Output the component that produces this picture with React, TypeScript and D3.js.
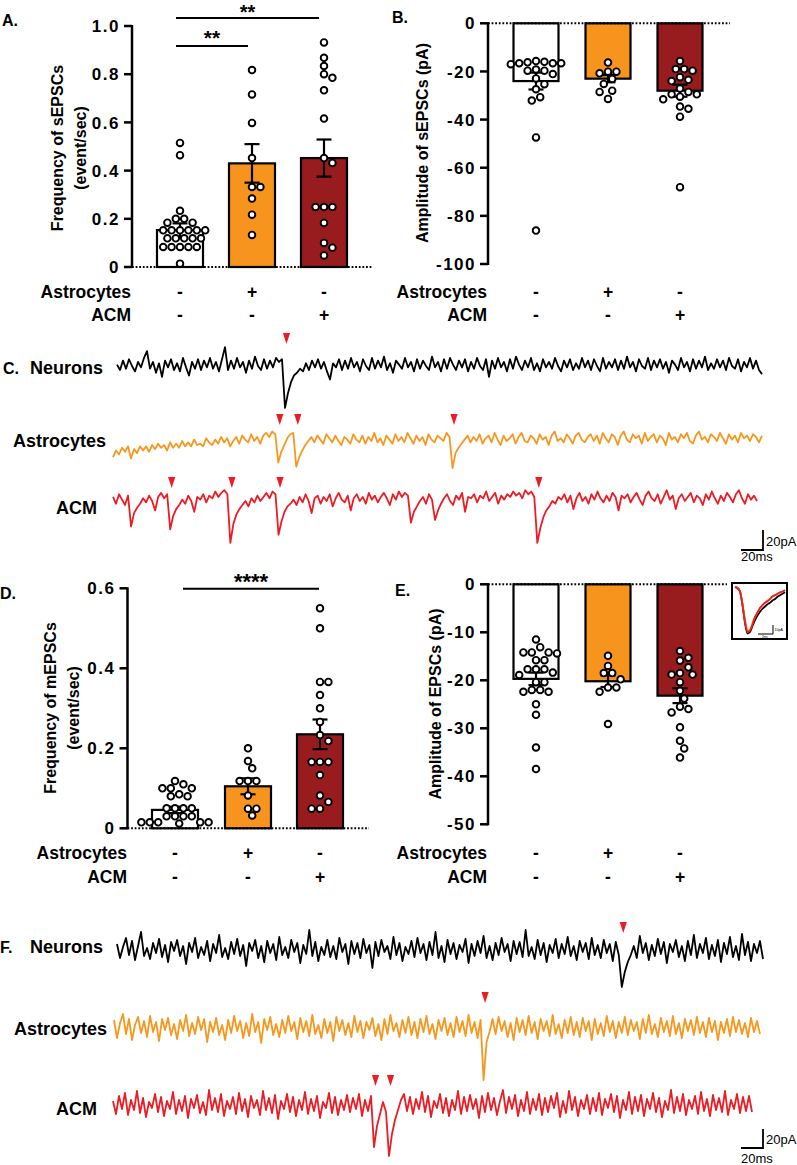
import React from 'react';
import * as d3 from 'd3';

const FONT = "'Liberation Sans', Arial, Helvetica, sans-serif";

// ---------------- DATA ----------------
const astrocytesRow = ['-', '+', '-'];
const acmRow = ['-', '-', '+'];
const barColors = ['#FFFFFF', '#F7941D', '#981B1E'];

// A. Frequency of sEPSCs (event/sec)
const sFreqTicks = [0, 0.2, 0.4, 0.6, 0.8, 1.0];
const sFreqMean = [0.153, 0.43, 0.452];
const sFreqSem = [0.028, 0.08, 0.077];
const sFreqNeurons = [0.515, 0.464, 0.233, 0.2, 0.2, 0.184, 0.184, 0.152, 0.152, 0.152, 0.152, 0.152, 0.152, 0.119, 0.119, 0.119, 0.119, 0.119, 0.083, 0.083, 0.083, 0.083, 0.083, 0.014];
const sFreqAstro = [0.817, 0.716, 0.598, 0.452, 0.332, 0.332, 0.284, 0.217, 0.133];
const sFreqACM = [0.932, 0.868, 0.834, 0.8, 0.785, 0.733, 0.616, 0.452, 0.432, 0.249, 0.249, 0.249, 0.183, 0.1, 0.08, 0.048];

// B. Amplitude of sEPSCs (pA)
const sAmpTicks = [0, -20, -40, -60, -80, -100];
const sAmpMean = [-24.0, -23.0, -28.0];
const sAmpSem = [3.5, 1.5, 2.5];
const sAmpNeurons = [-15.7, -16.0, -16.2, -16.6, -16.6, -16.6, -17.0, -19.2, -19.7, -19.7, -21.1, -22.9, -25.3, -27.4, -30.7, -32.1, -47.4, -86.1];
const sAmpAstro = [-16.3, -20.1, -20.1, -20.8, -23.1, -25.2, -28.0, -28.5, -31.4];
const sAmpACM = [-15.7, -19.0, -19.0, -19.7, -22.4, -23.5, -24.0, -27.1, -28.5, -29.5, -29.5, -30.5, -31.6, -34.6, -35.5, -38.8, -68.1];

// D. Frequency of mEPSCs (event/sec)
const mFreqTicks = [0, 0.2, 0.4, 0.6];
const mFreqMean = [0.046, 0.105, 0.235];
const mFreqSem = [0.008, 0.02, 0.037];
const mFreqNeurons = [0.118, 0.11, 0.1, 0.1, 0.1, 0.085, 0.08, 0.08, 0.05, 0.05, 0.05, 0.05, 0.03, 0.03, 0.03, 0.03, 0.015, 0.015, 0.015, 0.015, 0.015, 0.012];
const mFreqAstro = [0.2, 0.168, 0.15, 0.118, 0.118, 0.118, 0.082, 0.049, 0.049, 0.032];
const mFreqACM = [0.55, 0.5, 0.366, 0.366, 0.333, 0.3, 0.266, 0.233, 0.218, 0.166, 0.166, 0.166, 0.133, 0.082, 0.066, 0.049, 0.049];

// E. Amplitude of EPSCs (pA)
const ampTicks = [0, -10, -20, -30, -40, -50];
const ampMean = [-19.7, -20.2, -23.2];
const ampSem = [1.3, 1.2, 1.55];
const ampNeurons = [-11.5, -13.1, -14.2, -14.2, -14.2, -14.4, -15.8, -15.8, -17.7, -17.7, -17.7, -18.4, -18.9, -20.4, -20.4, -22.0, -22.0, -22.4, -22.4, -25.0, -27.2, -34.0, -38.5];
const ampAstro = [-14.9, -17.0, -18.5, -18.5, -19.8, -21.5, -21.5, -22.4, -29.1];
const ampACM = [-13.9, -15.3, -15.9, -17.3, -18.5, -18.8, -18.8, -20.4, -22.2, -23.8, -25.5, -26.0, -26.7, -29.8, -32.6, -34.2, -36.1];

// Inset: averaged EPSC waveforms (ms, pA)
const insetTime = [0, 1, 2, 3, 4, 5, 6, 7, 8, 9, 10, 11, 12, 13, 14, 15, 16, 17, 18, 19, 20];
const insetNeurons = [0, -0.5, -3, -12, -24, -31, -30, -26, -22, -19, -16.5, -14.5, -13, -11.5, -10.5, -9, -8, -6.5, -5.5, -4.5, -3.5];
const insetAstro = [0, -0.5, -3, -11, -22, -29, -28.5, -24, -20, -17, -14, -12, -10.5, -9, -8, -6.5, -5.5, -4.5, -4, -3, -2.5];
const insetACM = [0, -1, -3, -12, -23, -30, -29, -25, -20, -17, -14, -12, -10.5, -9.5, -8, -6, -5.5, -4.5, -3.5, -3, -2];

// C. sEPSC traces (pA relative to baseline, evenly sampled)
const traceC_Neurons = [
  1, -3, 4, -2, 5, 0, -4, 3, -1, 6,
  11, -2, 3, -5, 2, -8, 4, -1, 5, -3,
  2, -4, 6, -1, -7, 3, -2, 5, -3, 4,
  -1, 6, -2, 3, -4, 5, 14, -3, 4, -2,
  6, -1, 3, -5, 4, -2, 7, 0, -3, 5,
  -2, 4, -1, 6, 3, 5, -31, -20, -12, -7,
  -5, -2, -4, 2, -3, 4, -1, 5, -2, 3,
  -4, -10, 2, -1, 5, -3, 4, -2, 6, -1,
  3, -4, 5, 0, -3, 6, -2, 4, -1, 7,
  -3, 2, -5, 4, 1, -2, 6, -1, 3, -4,
  5, -2, 4, 0, -3, 7, -1, 3, -4, 5,
  -2, 6, 1, -3, 4, -1, 5, -4, 3, -2,
  6, 0, -3, 5, -8, 4, -2, 6, -1, 3,
  -4, 5, -2, 7, 1, -3, 4, -1, 6, -3,
  2, -4, 5, -1, 3, -2, 6, 0, -4, 4,
  -1, 5, -3, 2, -2, 6, -1, 4, -3, 5,
  0, -4, 6, -2, 3, -1, 5, -3, 4, -2,
  7, -1, 3, -4, 5, 0, -2, 6, -3, 4,
  -1, 5, -2, 3, -5, 4, 1, -3, 6, -1,
  3, -4, 5, -2, 4, -1, 7, -3, 2, -2,
  5, -1, 4, -3, 6, 0, -2, 5, -4, 3,
  -1, 6, -2, 4, -3, -6,
];
const traceC_Astro = [
  -12, -7, -10, -5, -8, -4, -13, -6, -9, -4,
  -7, -4, -8, -3, -6, -2, -5, -3, -7, -1,
  -5, -2, -5, 0, -4, -1, -4, 1, -3, -2,
  -4, 2, -1, -3, 1, -2, 3, -1, 2, -4,
  0, 3, -2, 4, 1, -1, 5, 0, 3, -2,
  4, 6, 3, 7, 5, -16, -8, -3, 2, 5,
  6, -19, -12, -7, -3, 0, 3, -1, 4, 1,
  -2, 5, 2, -1, 4, 0, -3, 3, 1, -2,
  5, 1, -1, 4, -2, 3, 0, 6, -1, 2,
  -3, 4, 1, -2, 5, 0, 3, -1, 6, 2,
  -2, 4, 0, 3, -3, 5, 1, -1, 4, 2,
  0, 6, 3, -20, -9, -5, -2, 1, 4, -1,
  3, 0, 5, -2, 2, 4, -1, 6, 1, -3,
  4, 0, 2, 5, -2, 3, 6, 0, -1, 4,
  2, -2, 5, 1, 3, -3, 4, 7, 0, 2,
  -1, 5, 2, -2, 4, 6, 1, -1, 3, 5,
  0, 4, -2, 6, 2, -1, 5, 3, -3, 4,
  7, 1, -1, 5, 2, 4, -2, 6, 0, 3,
  5, -1, 4, 2, -3, 6, 1, 3, -1, 5,
  2, 6, 0, -2, 4, 7, 1, 3, -1, 5,
  3, 0, 6, 2, -2, 5, 1, 4, -1, 6,
  2, 4, 0, 5, 3, -1, 4,
];
const traceC_ACM = [
  3, -2, 5, 1, -3, 4, -19, -9, -5, -2,
  2, -1, 4, 0, -7, 3, 6, 2, 5, -21,
  -11, -6, -3, 1, -2, 4, 0, -8, 3, 1,
  5, -1, 4, 2, 7, 3, 6, 8, 5, -31,
  -17, -10, -6, -3, 0, -4, 2, -1, 4, 0,
  3, 6, 2, 7, 5, -25, -15, -8, -4, -2,
  1, -3, 3, -1, 5, 0, -9, 2, 4, -2,
  3, 0, 5, -4, 2, 6, 1, -1, 4, -7,
  2, 5, 0, 3, -2, 6, 1, 4, -1, 3,
  6, 2, -3, 5, 1, 7, 3, 6, 4, -16,
  -8, -4, 0, 3, -2, 5, 1, -14, -7, -2,
  2, 5, 0, -3, 4, 1, 6, -8, 3, 2,
  5, -1, 4, 2, 7, 0, 3, 6, -2, 4,
  1, 5, 3, 7, 4, 6, 2, 8, 5, 7,
  3, -31, -20, -12, -7, -4, 0, -2, 3, 1,
  5, -1, 4, -6, 2, 6, 0, 3, -2, 5,
  1, 7, 2, -1, 4, 0, 6, 3, -7, 4,
  2, 5, -1, 3, 6, 1, -3, 4, 7, 2,
  0, 5, -2, 3, 8, 1, 4, -6, 2, 5,
  0, 3, 6, -1, 4, 2, -3, 5, 1, 7,
  2, -2, 4, 0, 6, 3, -1, 5, 8, 2,
  -2, 5, 1, 4, 0,
];
// F. mEPSC traces
const traceF_Neurons = [
  6, -8, 3, 12, -5, 9, -10, 4, 18, -6,
  2, -9, 7, -3, 11, -7, 5, -12, 8, -1,
  10, -6, 4, -14, 7, -2, 12, -8, 3, -5,
  9, -11, 6, -3, 15, -7, 2, -9, 8, -4,
  11, -6, 5, -16, 7, -1, 10, -8, 4, -12,
  9, -3, 6, -10, 13, -5, 3, -8, 10, -2,
  7, -13, 5, -4, 20, -6, 8, -11, 3, -5,
  10, -7, 4, -9, 12, -2, 6, -14, 9, -4,
  7, -8, 11, -3, 5, -18, 8, -6, 10, -2,
  4, -9, 13, -5, 7, -11, 3, -4, 9, -7,
  12, -3, 6, -10, 8, -5, 18, -8, 4, -12,
  10, -4, 7, -9, 5, -2, 11, -13, 6, -6,
  9, -3, 14, -8, 4, -10, 7, -5, 12, -2,
  6, -11, 9, -4, 8, -7, 20, -6, 3, -9,
  10, -5, 7, -12, 5, -3, 11, -8, 6, -4,
  13, -6, 4, -10, 9, -2, 7, -9, 12, -5,
  5, -8, 10, -3, 6, -11, 8, -5, -37, -22,
  -12, -5, 4, -8, 14, -3, 7, -10, 5, -6,
  11, -4, 8, -13, 6, -2, 10, -7, 4, -11,
  9, -5, 15, -8, 6, -3, 12, -9, 5, -6,
  10, -12, 7, -4, 13, -7, 4, -10, 16, -5,
  8, -11, 6, -3, 9, -9,
];
const traceF_Astro = [
  8, -10, 5, 14, -6, 9, -12, 3, 11, -5,
  7, -9, 12, -4, 6, -13, 9, -2, 10, -7,
  4, -11, 8, -3, 13, -8, 5, -6, 11, -2,
  9, -14, 6, -4, 10, -7, 3, -12, 8, -5,
  12, -3, 7, -10, 5, -8, 14, -4, 6, -15,
  9, -2, 11, -7, 4, -9, 8, -5, 12, -3,
  6, -11, 10, -4, 7, -8, 13, -6, 3, -10,
  9, -5, 6, -13, 11, -3, 8, -7, 5, -9,
  12, -4, 7, -10, 6, -2, 10, -8, 4, -12,
  9, -6, 13, -3, 5, -9, 8, -5, 11, -7,
  6, -10, 9, -4, 12, -6, 4, -11, 8, -3,
  10, -7, 5, -9, 11, -4, 7, -8, 13, -5,
  6, -10, 8, -52, -14, -4, 9, -6, 11, -3,
  7, -9, 5, -12, 10, -4, 8, -7, 12, -5,
  6, -11, 9, -3, 7, -8, 13, -6, 4, -10,
  8, -5, 11, -7, 6, -9, 10, -3, 7, -12,
  9, -6, 5, -8, 12, -4, 7, -10, 6, -5,
  11, -7, 8, -3, 6, -11, 9, -5, 13, -6,
  4, -9, 10, -4, 7, -8, 12, -6, 5, -10,
  9, -3, 8, -7, 11, -5, 6, -9, 10, -4,
  7, -12, 6, -5, 9, -8, 11, -4, 8, -6,
  5, -9, 10, -4, 7, -6,
];
const traceF_ACM = [
  5, -8, 10, -3, 13, -9, 6, -4, 15, -7,
  8, -11, 4, -2, 12, -6, 9, -10, 5, -3,
  14, -8, 6, -5, 10, -12, 7, -2, 11, -7,
  4, -9, 16, -4, 8, -6, 12, -10, 5, -3,
  9, -8, 13, -5, 7, -11, 10, -2, 6, -9,
  15, -4, 8, -7, 11, -13, 5, -3, 12, -6,
  9, -10, 6, -4, 14, -8, 7, -5, 10, -12,
  4, -2, 13, -7, 9, -9, 6, -4, 11, -6,
  8, -3, 12, -10, 6, -5, 10, -41, -20, -8,
  4, -6, -50, -28, -14, -4, 6, 12, -5, 9,
  -8, 7, -3, 14, -6, 10, -11, 5, -2, 12,
  -7, 8, -10, 6, -4, 15, -8, 9, -5, 11,
  -3, 7, -12, 10, -6, 13, -4, 8, -9, 5,
  16, -7, 9, -3, 11, -10, 6, -5, 14, -8,
  7, -4, 12, -9, 8, -6, 10, -2, 13, -11,
  5, -7, 15, -4, 9, -10, 6, -3, 11, -8,
  8, -5, 13, -9, 7, -2, 12, -6, 10, -12,
  6, -4, 14, -8, 9, -5, 11, -10, 7, -3,
  13, -6, 8, -11, 5, -4, 16, -7, 9, -5,
  12, -9, 6, -3, 10, -8, 14, -5, 7, -10,
  11, -4, 8, -6, 15, -9, 6, -3, 12, -7,
  9, -5, 10, -6,
];
// sample indices of marked events (red arrowheads)
const eventsC_Neurons = [56];
const eventsC_Astro = [55, 61, 113];
const eventsC_ACM = [19, 39, 55, 141];
const eventsF_Neurons = [168];
const eventsF_Astro = [123];
const eventsF_ACM = [87, 92];

// ---------------- HELPERS ----------------
function swarmOffsets(ys: number[], d: number): number[] {
  const order = ys.map((_, i) => i).sort((a, b) => ys[a] - ys[b]);
  const placed: [number, number][] = [];
  const out = new Array(ys.length).fill(0);
  for (const i of order) {
    for (let k = 0; k < 80; k++) {
      const off = k === 0 ? 0 : (k % 2 === 1 ? 1 : -1) * Math.ceil(k / 2) * (d / 2);
      const ok = placed.every(([px, py]) => (px - off) ** 2 + (py - ys[i]) ** 2 >= d * d * 0.9);
      if (ok) {
        out[i] = off;
        placed.push([off, ys[i]]);
        break;
      }
    }
  }
  return out;
}

type PanelProps = {
  axisX: number;
  range: [number, number];
  domain: [number, number];
  ticks: number[];
  fmt: (v: number) => string;
  centers: number[];
  barW: number;
  means: number[];
  sems: number[];
  points: number[][];
  dotEnd: number;
  titles: string[];
  titleXs: number[];
  titleY: number;
  rowY: [number, number];
  rowRight: number;
};

function BarPanel(p: PanelProps) {
  const y = d3.scaleLinear().domain(p.domain).range(p.range);
  const y0 = y(0);
  const r = 3.3;
  const d = 8.4;
  const yA = y(p.domain[0]);
  const yB = y(p.domain[1]);
  return (
    <g>
      {p.means.map((m, i) => {
        const ym = y(m);
        return (
          <rect key={'b' + i} x={p.centers[i] - p.barW / 2} y={Math.min(ym, y0)} width={p.barW}
            height={Math.abs(ym - y0)} fill={barColors[i]} stroke="#000" strokeWidth={2.2} />
        );
      })}
      {p.means.map((m, i) => {
        const a = y(m - p.sems[i]);
        const b = y(m + p.sems[i]);
        const c = p.centers[i];
        return (
          <g key={'e' + i} stroke="#000" strokeWidth={2.2}>
            <line x1={c} x2={c} y1={a} y2={b} />
            <line x1={c - 7.5} x2={c + 7.5} y1={a} y2={a} />
            <line x1={c - 7.5} x2={c + 7.5} y1={b} y2={b} />
          </g>
        );
      })}
      {p.points.map((vals, gi) => {
        const ys = vals.map((v) => y(v));
        const offs = swarmOffsets(ys, d);
        return vals.map((v, j) => (
          <circle key={'p' + gi + '-' + j} cx={p.centers[gi] + offs[j]} cy={ys[j]} r={r}
            fill="#fff" stroke="#000" strokeWidth={1.9} />
        ));
      })}
      <line x1={p.axisX} x2={p.dotEnd} y1={y0} y2={y0} stroke="#000" strokeWidth={2}
        strokeDasharray="1.8 1.8" />
      <line x1={p.axisX} x2={p.axisX} y1={Math.min(yA, yB) - 1} y2={Math.max(yA, yB) + 1}
        stroke="#000" strokeWidth={2.5} />
      {p.ticks.map((t) => (
        <g key={'t' + t}>
          <line x1={p.axisX - 8} x2={p.axisX} y1={y(t)} y2={y(t)} stroke="#000" strokeWidth={2.5} />
          <text x={p.axisX - 12} y={y(t)} dy="0.36em" textAnchor="end" fontFamily={FONT}
            fontWeight="bold" fontSize={17} letterSpacing={1.5}>{p.fmt(t)}</text>
        </g>
      ))}
      {p.titles.map((t, i) => (
        <text key={'ti' + i} transform={`translate(${p.titleXs[i]},${p.titleY}) rotate(-90)`}
          textAnchor="middle" dy="0.36em" fontFamily={FONT} fontWeight="bold" fontSize={16}>{t}</text>
      ))}
      <text x={p.rowRight} y={p.rowY[0]} dy="0.36em" textAnchor="end" fontFamily={FONT}
        fontWeight="bold" fontSize={17.5}>Astrocytes</text>
      <text x={p.rowRight} y={p.rowY[1]} dy="0.36em" textAnchor="end" fontFamily={FONT}
        fontWeight="bold" fontSize={17.5}>ACM</text>
      {p.centers.map((c, i) => (
        <g key={'r' + i}>
          <text x={c} y={p.rowY[0]} dy="0.36em" textAnchor="middle" fontFamily={FONT}
            fontWeight="bold" fontSize={17.5}>{astrocytesRow[i]}</text>
          <text x={c} y={p.rowY[1]} dy="0.36em" textAnchor="middle" fontFamily={FONT}
            fontWeight="bold" fontSize={17.5}>{acmRow[i]}</text>
        </g>
      ))}
    </g>
  );
}

type TraceProps = {
  values: number[];
  x0: number;
  x1: number;
  base: number;
  pxPerPA: number;
  color: string;
  events: number[];
  arrowTop: number;
};

function Trace(p: TraceProps) {
  const x = d3.scaleLinear().domain([0, p.values.length - 1]).range([p.x0, p.x1]);
  const y = d3.scaleLinear().domain([0, 10]).range([p.base, p.base - 10 * p.pxPerPA]);
  const line = d3.line<number>().x((_, i) => x(i)).y((v) => y(v));
  return (
    <g>
      <path d={line(p.values) || ''} fill="none" stroke={p.color} strokeWidth={1.8} strokeLinejoin="round" />
      {p.events.map((e, i) => {
        const cx = x(e) + 1.5;
        return (
          <polygon key={i} points={`${cx - 3.6},${p.arrowTop} ${cx + 3.6},${p.arrowTop} ${cx},${p.arrowTop + 11}`}
            fill="#ED1C24" />
        );
      })}
    </g>
  );
}

function ScaleBar({ x, yTop, yBottom, xLeft, textY1, textY2 }: { x: number; yTop: number; yBottom: number; xLeft: number; textY1: number; textY2: number }) {
  return (
    <g>
      <polyline points={`${xLeft},${yBottom} ${x},${yBottom} ${x},${yTop}`} fill="none" stroke="#000" strokeWidth={1.8} />
      <text x={x + 3} y={textY1} fontFamily={FONT} fontSize={13}>20pA</text>
      <text x={xLeft} y={textY2} fontFamily={FONT} fontSize={13}>20ms</text>
    </g>
  );
}

function Label({ x, y, text, anchor = 'end', size = 18 }: { x: number; y: number; text: string; anchor?: string; size?: number }) {
  return (
    <text x={x} y={y} dy="0.36em" textAnchor={anchor as any} fontFamily={FONT} fontWeight="bold" fontSize={size}>{text}</text>
  );
}

function Inset() {
  const x = d3.scaleLinear().domain([0, 20]).range([735, 785]);
  const y = d3.scaleLinear().domain([0, -30]).range([587, 632]);
  const line = d3.line<number>().x((_, i) => x(insetTime[i])).y((v) => y(v)).curve(d3.curveMonotoneX);
  return (
    <g>
      <rect x={732} y={583} width={55} height={56} fill="#fff" stroke="#000" strokeWidth={2} />
      <path d={line(insetNeurons) || ''} fill="none" stroke="#000" strokeWidth={1.8} />
      <path d={line(insetAstro) || ''} fill="none" stroke="#F7941D" strokeWidth={1.8} />
      <path d={line(insetACM) || ''} fill="none" stroke="#ED1C24" strokeWidth={1.8} />
      <polyline points="758,634 773,634 773,625" fill="none" stroke="#000" strokeWidth={1} />
      <text x={774.5} y={631} fontFamily={FONT} fontSize={3.6}>10pA</text>
      <text x={762} y={638} fontFamily={FONT} fontSize={3}>2ms</text>
    </g>
  );
}

export default function App() {
  const fmtDec = (v: number) => (v === 0 ? '0' : v.toFixed(1));
  const fmtInt = (v: number) => String(v);
  return (
    <svg width={797} height={1165} viewBox="0 0 797 1165"
      style={{ position: 'absolute', left: 0, top: 0, background: '#fff' }}>
      <rect x={0} y={0} width={797} height={1165} fill="#fff" />

      {/* Panel A */}
      <Label x={2} y={20} text="A." anchor="start" size={16} />
      <BarPanel axisX={132} range={[267, 26]} domain={[0, 1]} ticks={sFreqTicks} fmt={fmtDec}
        centers={[180, 252, 324]} barW={46} means={sFreqMean} sems={sFreqSem}
        points={[sFreqNeurons, sFreqAstro, sFreqACM]} dotEnd={373}
        titles={['Frequency of sEPSCs', '(event/sec)']} titleXs={[57, 80]} titleY={148}
        rowY={[292, 315]} rowRight={131} />
      <g stroke="#000" strokeWidth={2}>
        <line x1={176} x2={248} y1={46} y2={46} />
        <line x1={176} x2={319} y1={18} y2={18} />
      </g>
      <text x={212} y={45} textAnchor="middle" fontFamily={FONT} fontWeight="bold" fontSize={21}>**</text>
      <text x={247.5} y={18.5} textAnchor="middle" fontFamily={FONT} fontWeight="bold" fontSize={20}>**</text>

      {/* Panel B */}
      <Label x={392} y={17} text="B." anchor="start" size={16} />
      <BarPanel axisX={488} range={[23.3, 264]} domain={[0, -100]} ticks={sAmpTicks} fmt={fmtInt}
        centers={[536, 608, 680]} barW={45} means={sAmpMean} sems={sAmpSem}
        points={[sAmpNeurons, sAmpAstro, sAmpACM]} dotEnd={730}
        titles={['Amplitude of sEPSCs (pA)']} titleXs={[422]} titleY={143}
        rowY={[292, 315]} rowRight={487} />

      {/* Panel C */}
      <Label x={3} y={368} text="C." anchor="start" size={16} />
      <Label x={103} y={368} text="Neurons" />
      <Label x={106} y={441} text="Astrocytes" />
      <Label x={97} y={508} text="ACM" />
      <Trace values={traceC_Neurons} x0={117} x1={762} base={366} pxPerPA={1.35} color="#000" events={eventsC_Neurons} arrowTop={333} />
      <Trace values={traceC_Astro} x0={113} x1={762} base={441} pxPerPA={1.35} color="#F7971E" events={eventsC_Astro} arrowTop={414} />
      <Trace values={traceC_ACM} x0={113} x1={757} base={501} pxPerPA={1.35} color="#ED1C24" events={eventsC_ACM} arrowTop={477} />
      <ScaleBar x={763} yTop={530} yBottom={550} xLeft={741} textY1={546} textY2={561} />

      {/* Panel D */}
      <Label x={0} y={593} text="D." anchor="start" size={16} />
      <BarPanel axisX={127.5} range={[828.3, 588.3]} domain={[0, 0.6]} ticks={mFreqTicks} fmt={fmtDec}
        centers={[175, 248, 320]} barW={46} means={mFreqMean} sems={mFreqSem}
        points={[mFreqNeurons, mFreqAstro, mFreqACM]} dotEnd={369}
        titles={['Frequency of mEPSCs', '(event/sec)']} titleXs={[50, 73]} titleY={708}
        rowY={[852.7, 876.7]} rowRight={127} />
      <line x1={183} x2={319} y1={588.7} y2={588.7} stroke="#000" strokeWidth={2} />
      <text x={251} y={589} textAnchor="middle" fontFamily={FONT} fontWeight="bold" fontSize={22}>****</text>

      {/* Panel E */}
      <Label x={395} y={590} text="E." anchor="start" size={16} />
      <BarPanel axisX={488} range={[584.3, 824.3]} domain={[0, -50]} ticks={ampTicks} fmt={fmtInt}
        centers={[536, 608, 680]} barW={45} means={ampMean} sems={ampSem}
        points={[ampNeurons, ampAstro, ampACM]} dotEnd={727}
        titles={['Amplitude of EPSCs (pA)']} titleXs={[435]} titleY={704}
        rowY={[852.7, 876.7]} rowRight={487} />
      <Inset />

      {/* Panel F */}
      <Label x={0} y={947} text="F." anchor="start" size={16} />
      <Label x={103} y={947} text="Neurons" />
      <Label x={107} y={1029} text="Astrocytes" />
      <Label x={97} y={1109} text="ACM" />
      <Trace values={traceF_Neurons} x0={117} x1={763} base={950} pxPerPA={1} color="#000" events={eventsF_Neurons} arrowTop={922} />
      <Trace values={traceF_Astro} x0={114} x1={760} base={1028} pxPerPA={1} color="#F7971E" events={eventsF_Astro} arrowTop={992} />
      <Trace values={traceF_ACM} x0={113} x1={752} base={1106} pxPerPA={1} color="#ED1C24" events={eventsF_ACM} arrowTop={1075} />
      <ScaleBar x={763} yTop={1129} yBottom={1148} xLeft={741} textY1={1144} textY2={1163} />
    </svg>
  );
}
